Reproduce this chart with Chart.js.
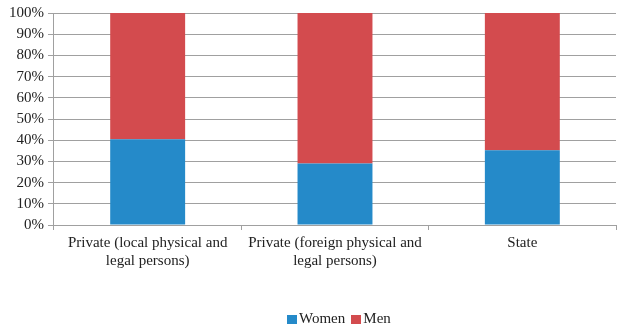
<!DOCTYPE html>
<html>
<head>
<meta charset="utf-8">
<script src="https://cdn.jsdelivr.net/npm/chart.js@4/dist/chart.umd.min.js"></script>
<style>
  html, body { margin: 0; padding: 0; background: #fff; }
  #wrap { width: 617px; height: 327px; position: relative; }
  #legend {
    position: absolute; left: 287px; top: 310px;
    display: flex; align-items: center;
    font: 15px "Liberation Serif", "Times New Roman", serif; color: #222;
    line-height: 17px; white-space: nowrap;
  }
  #legend .item { display: flex; align-items: center; margin-right: 6px; }
  #legend .box { width: 10px; height: 9px; margin-right: 2px; margin-top: 2px; }
</style>
</head>
<body>
<div id="wrap">
  <canvas id="c"></canvas>
  <div id="legend"></div>
</div>
<script>
// Share of women and men by employer type (percent)
const categories = [
  ['Private (local physical and', 'legal persons)'],
  ['Private (foreign physical and', 'legal persons)'],
  'State'
];
const seriesNames = ['Women', 'Men'];
const women = [40.5, 29, 35.3];
const men = [59.5, 71, 64.7];
const yTicks = [0, 10, 20, 30, 40, 50, 60, 70, 80, 90, 100];
const colors = ['#258ac9', '#d34b4e'];

const font = { family: '"Liberation Serif", "Times New Roman", serif', size: 15 };

const chart = new Chart(document.getElementById('c'), {
  type: 'bar',
  data: {
    labels: categories,
    datasets: [
      { label: seriesNames[0], data: women, backgroundColor: colors[0], borderWidth: 0, barPercentage: 0.4, categoryPercentage: 1 },
      { label: seriesNames[1], data: men, backgroundColor: colors[1], borderWidth: 0, barPercentage: 0.4, categoryPercentage: 1 }
    ]
  },
  options: {
    responsive: true,
    maintainAspectRatio: false,
    animation: false,
    layout: { padding: { top: 7, right: 1, left: 5, bottom: 0 } },
    plugins: {
      tooltip: { enabled: false },
      legend: { display: false }
    },
    scales: {
      x: {
        stacked: true,
        offset: true,
        grid: { offset: true, drawOnChartArea: false, drawTicks: true, tickLength: 5, color: '#a0a0a0' },
        border: { color: '#a0a0a0', width: 1 },
        ticks: { font: font, color: '#222', maxRotation: 0, padding: 4 },
        afterFit: (scale) => { scale.height = 102; }
      },
      y: {
        stacked: true,
        min: 0,
        max: 100,
        afterBuildTicks: (scale) => { scale.ticks = yTicks.map(v => ({ value: v })); },
        grid: { color: '#a0a0a0', lineWidth: 1, tickLength: 6 },
        border: { color: '#a0a0a0', width: 1 },
        ticks: { font: font, color: '#222', padding: 4, autoSkip: false, callback: (v) => v + '%' }
      }
    }
  }
});

// Legend built from the chart's datasets
const legend = document.getElementById('legend');
chart.data.datasets.forEach((ds) => {
  const item = document.createElement('span');
  item.className = 'item';
  const box = document.createElement('span');
  box.className = 'box';
  box.style.background = ds.backgroundColor;
  const label = document.createElement('span');
  label.textContent = ds.label;
  item.appendChild(box);
  item.appendChild(label);
  legend.appendChild(item);
});
</script>
</body>
</html>
